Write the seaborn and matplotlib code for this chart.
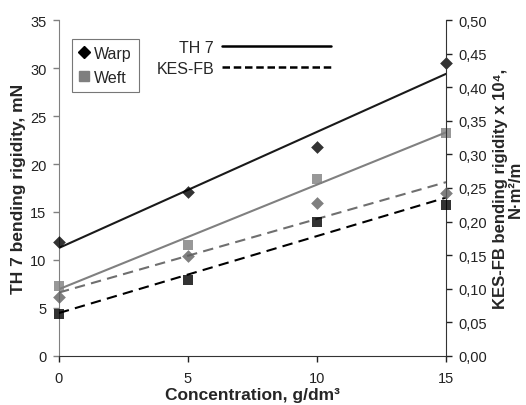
import numpy as np
import pandas as pd
import matplotlib
matplotlib.use("Agg")
import matplotlib.pyplot as plt
import seaborn as sns
from matplotlib.lines import Line2D
from matplotlib.ticker import FuncFormatter

sns.set_style("white")
plt.rcParams['font.family'] = ['Liberation Sans', 'DejaVu Sans']

concentration = [0, 5, 10, 15]
th7_warp = [11.9, 17.1, 21.8, 30.5]
th7_weft = [7.3, 11.6, 18.4, 23.2]
kes_warp = [0.087, 0.148, 0.228, 0.243]
kes_weft = [0.062, 0.113, 0.200, 0.224]

df = pd.DataFrame({"c": concentration, "th7_warp": th7_warp, "th7_weft": th7_weft,
                   "kes_warp": kes_warp, "kes_weft": kes_weft})

fig = plt.figure(figsize=(5.26, 4.06), dpi=100)
ax = fig.add_axes([0.112, 0.121, 0.736, 0.827])
ax2 = ax.twinx()

# TH7 on left axis
sns.regplot(data=df, x="c", y="th7_warp", ax=ax, ci=None, marker="D",
            scatter_kws=dict(color="black", s=42, zorder=5, clip_on=False, linewidths=0),
            line_kws=dict(color="#1a1a1a", lw=1.5))
sns.regplot(data=df, x="c", y="th7_weft", ax=ax, ci=None, marker="s",
            scatter_kws=dict(color="#7f7f7f", s=48, zorder=5, clip_on=False, linewidths=0),
            line_kws=dict(color="#808080", lw=1.5))
# KES-FB on right axis
sns.regplot(data=df, x="c", y="kes_warp", ax=ax2, ci=None, marker="D",
            scatter_kws=dict(color="#5f5f5f", s=42, zorder=5, clip_on=False, linewidths=0),
            line_kws=dict(color="#6f6f6f", lw=1.5, ls=(0, (5, 3))))
sns.regplot(data=df, x="c", y="kes_weft", ax=ax2, ci=None, marker="s",
            scatter_kws=dict(color="black", s=48, zorder=5, clip_on=False, linewidths=0),
            line_kws=dict(color="black", lw=1.5, ls=(0, (5, 3))))

ax.set_xlim(0, 15)
ax.set_ylim(0, 35)
ax2.set_ylim(0, 0.5)
ax.set_xticks([0, 5, 10, 15])
ax.set_yticks(np.arange(0, 36, 5))
ax2.set_yticks(np.arange(0, 0.51, 0.05))
ax2.yaxis.set_major_formatter(FuncFormatter(lambda v, p: f"{v:.2f}".replace(".", ",")))

ax.spines["top"].set_visible(False)
ax2.spines["top"].set_visible(False)
ax.spines["left"].set_color("#808080")
ax.spines["bottom"].set_color("#333333")
ax2.spines["right"].set_color("#333333")
ax2.spines["left"].set_visible(False)
ax2.spines["bottom"].set_visible(False)
ax.spines["right"].set_visible(False)

ax.tick_params(axis="both", direction="out", length=4, width=1, colors="#222222",
               labelsize=10.5, left=True, bottom=True, pad=5)
ax.tick_params(axis="x", pad=7)
ax.tick_params(axis="y", color="#808080", labelcolor="#222222")
ax2.tick_params(axis="y", direction="out", length=4, width=1, labelsize=10.5,
                right=True, colors="#222222", pad=5)

ax.set_xlabel("Concentration, g/dm³", fontsize=12.5, fontweight="bold", labelpad=1)
ax.set_ylabel("TH 7 bending rigidity, mN", fontsize=12.5, fontweight="bold", labelpad=3)
ax2.set_ylabel("KES-FB bending rigidity x 10⁴,\nN·m²/m", fontsize=12,
               fontweight="bold", labelpad=4, linespacing=1.0)
ax.grid(False)
ax2.grid(False)

# Legends
h1 = [Line2D([], [], marker="D", color="black", ls="none", markersize=6),
      Line2D([], [], marker="s", color="#7f7f7f", ls="none", markersize=6.5)]
leg1 = ax.legend(h1, ["Warp", "Weft"], loc="upper left", bbox_to_anchor=(0.035, 0.945),
                 frameon=True, fancybox=False, edgecolor="#555555", fontsize=11.5,
                 handlelength=0.6, handletextpad=0.3, borderpad=0.45, labelspacing=0.55,
                 borderaxespad=0)
leg1.get_frame().set_linewidth(0.8)
ax.add_artist(leg1)
h2 = [Line2D([], [], color="black", lw=1.8),
      Line2D([], [], color="black", lw=1.8, ls=(0, (3, 1.5)))]
ax.legend(h2, ["TH 7", "KES-FB"], loc="upper left", bbox_to_anchor=(0.235, 0.96),
          frameon=False, fontsize=11.5, markerfirst=False, handlelength=6.8,
          handletextpad=0.5, labelspacing=0.35, borderaxespad=0)

fig.savefig("out.png", dpi=100)
